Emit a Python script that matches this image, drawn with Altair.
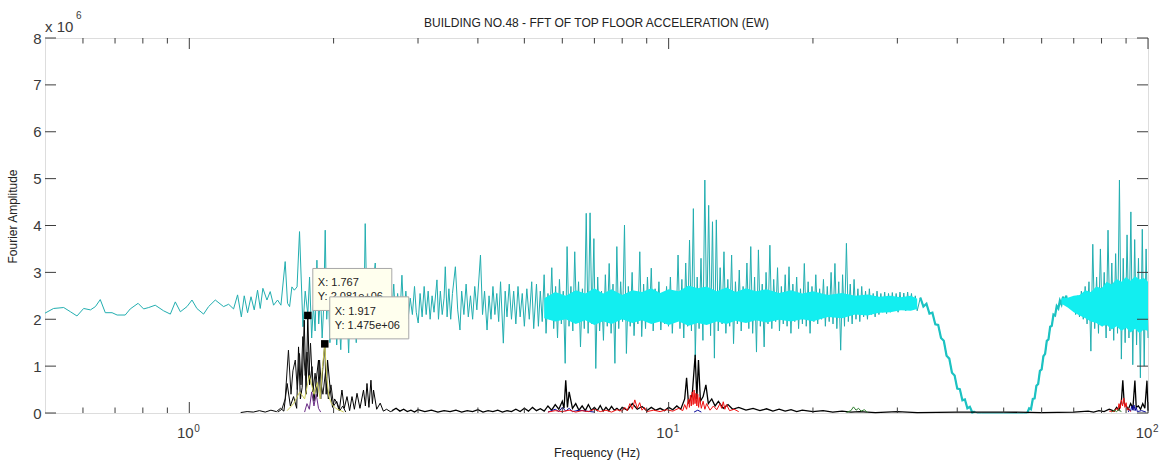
import altair as alt
import numpy as np
import pandas as pd

W, H = 1103, 375
FONT = "Liberation Sans"
AXC = "#3d3d3d"

TITLE = ["BUILDING NO.48 - FFT OF TOP FLOOR ACCELERATION (EW)"]
X_TITLE = "Frequency (Hz)"
Y_TITLE = "Fourier Amplitude"
MULT = ["x 10"]
MULT_EXP = ["6"]

# ---------------- cyan series (amplitude in x10^6) ----------------
cyan_low = [
    (0.500, 2.13), (0.521, 2.23), (0.547, 2.25), (0.565, 2.16), (0.583, 2.07), (0.602, 2.23),
    (0.622, 2.20), (0.637, 2.27), (0.652, 2.42), (0.668, 2.14), (0.690, 2.14), (0.707, 2.09),
    (0.735, 2.09), (0.753, 2.22), (0.782, 2.34), (0.803, 2.22), (0.823, 2.25), (0.849, 2.30),
    (0.884, 2.18), (0.913, 2.11), (0.935, 2.37), (0.958, 2.16), (0.989, 2.27), (1.013, 2.41),
    (1.037, 2.23), (1.071, 2.11), (1.097, 2.27), (1.133, 2.41), (1.179, 2.27), (1.208, 2.32),
    (1.237, 2.22), (1.261, 2.52), (1.284, 2.05), (1.302, 2.50), (1.323, 2.14), (1.345, 2.48),
    (1.366, 2.20), (1.388, 2.62), (1.406, 2.23), (1.424, 2.66), (1.452, 2.41), (1.475, 2.59),
    (1.499, 2.30), (1.528, 2.41), (1.553, 2.30), (1.585, 3.23), (1.603, 2.34), (1.619, 2.27),
    (1.637, 2.69), (1.656, 2.62), (1.678, 2.69), (1.698, 3.87), (1.726, 1.84),
]
cyan_mid = [
    (1.745, 2.60), (1.767, 2.10), (1.782, 2.90), (1.800, 1.60), (1.815, 2.30), (1.830, 1.75),
    (1.846, 3.26), (1.862, 1.90), (1.878, 2.55), (1.893, 1.60), (1.907, 2.25), (1.921, 3.90),
    (1.935, 2.00), (1.950, 2.70), (1.965, 1.50), (1.980, 2.40), (1.995, 1.80), (2.010, 2.60),
    (2.030, 1.45), (2.050, 2.20), (2.070, 1.35), (2.090, 2.50), (2.110, 1.60), (2.130, 2.30),
    (2.150, 1.28), (2.170, 2.60), (2.190, 1.70), (2.210, 2.35), (2.230, 1.50), (2.250, 2.70),
    (2.270, 1.90), (2.290, 2.40), (2.310, 1.60), (2.328, 4.04), (2.350, 1.90), (2.370, 2.90),
    (2.390, 2.00), (2.410, 2.60), (2.443, 3.20), (2.460, 1.90), (2.480, 2.50), (2.500, 2.10),
    (2.520, 2.70), (2.545, 2.20), (2.570, 2.60), (2.595, 2.00), (2.620, 2.50), (2.645, 2.10),
    (2.670, 2.75), (2.695, 1.95), (2.720, 2.55), (2.750, 2.05), (2.777, 2.94), (2.800, 2.10),
    (2.830, 2.60), (2.860, 2.00), (2.890, 2.45), (2.920, 2.10), (2.950, 2.70), (2.975, 2.15),
    (3.003, 1.92), (3.030, 2.55), (3.060, 2.05), (3.090, 2.70), (3.120, 2.10), (3.150, 2.60),
    (3.180, 2.00), (3.210, 2.50), (3.240, 2.15), (3.286, 2.84), (3.310, 2.00), (3.340, 2.60),
    (3.370, 2.10), (3.400, 2.45), (3.420, 3.12), (3.450, 2.05), (3.480, 2.65), (3.510, 2.00),
    (3.540, 2.55), (3.590, 3.12), (3.630, 2.20), (3.670, 1.77), (3.700, 2.60), (3.740, 2.10),
    (3.780, 2.75), (3.820, 2.05), (3.860, 2.50), (3.900, 2.00), (3.940, 2.70), (3.980, 2.20),
    (4.050, 3.37), (4.090, 2.10), (4.130, 2.60), (4.180, 1.77), (4.220, 2.50), (4.260, 2.00),
    (4.300, 2.70), (4.340, 2.10), (4.380, 2.55), (4.420, 1.95), (4.460, 2.80), (4.520, 1.49),
    (4.560, 2.60), (4.600, 2.05), (4.650, 2.75), (4.700, 2.00), (4.750, 2.60), (4.800, 1.90),
    (4.850, 2.70), (4.900, 2.05), (4.950, 2.55), (5.000, 1.85), (5.060, 2.65), (5.120, 2.00),
    (5.180, 2.80), (5.230, 1.80),
]
# dense band 5.3 - 33 Hz (values read left to right, alternating crest / trough)
cyan_dense_a_range = (5.3, 33.0)
cyan_dense_a = [
    2.75, 1.85, 2.60, 1.95, 2.95, 1.70, 2.55, 2.00, 3.10, 1.80, 2.70, 1.60, 2.85, 1.90, 2.60, 1.06, 3.55, 1.85, 2.70, 1.75,
    3.44, 1.95, 2.80, 1.41, 2.65, 1.80, 4.26, 1.70, 4.27, 1.90, 3.72, 0.95, 2.90, 1.75, 2.60, 1.55, 2.95, 1.85, 3.19, 1.70,
    2.75, 1.06, 3.55, 1.80, 2.80, 1.95, 4.01, 1.27, 2.70, 1.85, 3.00, 1.65, 2.60, 1.90, 3.44, 1.63, 2.75, 1.80, 2.90, 1.95,
    3.09, 1.75, 2.65, 2.00, 2.80, 1.77, 2.55, 1.90, 2.70, 1.85, 2.90, 1.70, 2.60, 1.95, 3.37, 1.80, 2.85, 1.60, 3.20, 1.85,
    3.69, 1.75, 4.36, 1.20, 2.90, 1.80, 3.30, 1.55, 4.97, 1.90, 4.43, 1.65, 4.08, 1.17, 4.12, 1.75, 3.10, 1.90, 3.44, 1.70,
    2.85, 1.85, 3.37, 1.48, 2.80, 1.90, 3.05, 1.75, 2.70, 1.95, 3.20, 1.80, 3.55, 1.70, 2.90, 1.30, 3.48, 1.85, 2.75, 1.41,
    3.00, 1.90, 3.58, 1.80, 2.85, 1.95, 3.10, 1.75, 2.70, 1.90, 2.95, 1.85, 3.12, 1.70, 2.75, 1.95, 2.90, 1.80, 2.65, 1.90,
    3.19, 1.85, 2.80, 1.70, 2.70, 1.95, 2.95, 1.90, 2.65, 2.00, 2.85, 1.85, 2.70, 1.95, 3.00, 1.90, 3.19, 1.80, 2.80, 1.34,
    2.95, 1.85, 3.62, 1.95, 2.75, 1.90, 2.85, 2.00, 2.65, 1.95, 2.70, 2.05, 2.60, 2.00, 2.65, 2.10, 2.55, 2.05, 2.60, 2.10,
    2.55, 2.15, 2.58, 2.12, 2.55, 2.15, 2.57, 2.18, 2.55, 2.15, 2.58, 2.20, 2.56, 2.18, 2.58, 2.22, 2.55, 2.20, 2.50, 2.18,
]
# roll-off and recovery around the 40-60 Hz notch
cyan_dip_down = [
    (33.5, 2.46), (34.0, 2.27), (34.5, 2.33), (35.0, 2.12), (35.5, 2.14), (36.0, 1.89), (36.5, 1.88),
    (37.0, 1.60), (37.5, 1.54), (38.0, 1.22), (38.5, 1.16), (39.0, 0.86), (39.5, 0.80), (40.0, 0.52),
    (40.5, 0.51), (41.0, 0.27), (41.5, 0.29), (42.0, 0.10), (42.5, 0.13), (43.0, 0.01), (43.5, 0.03),
]
cyan_notch = [(44.0, 0.00), (45.0, 0.00), (50.0, 0.00), (55.0, 0.00)]
cyan_dip_up = [
    (56.0, 0.00), (56.5, 0.10), (57.0, 0.08),
    (57.5, 0.30), (58.0, 0.31), (58.5, 0.58), (59.0, 0.62), (59.5, 0.90), (60.0, 0.93), (60.5, 1.21),
    (61.0, 1.26), (61.5, 1.54), (62.0, 1.57), (62.5, 1.84), (63.0, 1.86), (63.5, 2.10), (64.0, 2.08),
    (64.5, 2.28), (65.0, 2.23), (65.5, 2.40), (66.0, 2.32), (66.5, 2.48), (67.0, 2.36), (67.5, 2.50),
    (68.0, 2.32), (68.5, 2.45), (69.0, 2.26), (69.5, 2.40),
]
cyan_dense_b_range = (70.0, 100.0)
cyan_dense_b = [
    2.45, 2.10, 2.50, 2.05, 2.60, 2.00, 2.70, 1.90, 2.80, 1.32, 3.60, 1.80, 2.90, 1.70, 3.50, 1.85, 3.00, 1.60, 3.90, 1.75,
    3.20, 1.55, 3.40, 1.70, 4.97, 1.15, 3.30, 1.50, 3.80, 1.60, 4.29, 1.03, 3.70, 1.45, 3.30, 0.75, 3.92, 1.00, 3.50, 1.60,
]
# bright solid core of the dense cyan band: (freq, lower, upper)
cyan_core_a = [
    (5.5, 2.02, 2.45), (5.8, 1.95, 2.58), (6.1, 2.00, 2.50), (6.4, 1.90, 2.62), (6.7, 1.98, 2.55),
    (7.0, 1.88, 2.66), (7.3, 1.96, 2.55), (7.6, 1.90, 2.64), (8.0, 2.00, 2.52), (8.4, 1.92, 2.62),
    (8.8, 1.98, 2.58), (9.2, 1.90, 2.66), (9.6, 1.95, 2.56), (10.0, 1.88, 2.64), (10.5, 1.95, 2.60),
    (11.0, 1.86, 2.72), (11.5, 1.92, 2.66), (12.0, 1.88, 2.70), (12.6, 1.95, 2.60), (13.2, 1.90, 2.68),
    (13.8, 1.97, 2.58), (14.5, 1.92, 2.66), (15.2, 1.98, 2.60), (16.0, 1.93, 2.64), (17.0, 1.99, 2.56),
    (18.0, 1.95, 2.62), (19.0, 2.00, 2.55), (20.0, 1.96, 2.60), (21.5, 2.05, 2.52), (23.0, 2.02, 2.56),
    (24.5, 2.10, 2.50), (26.0, 2.08, 2.53), (27.5, 2.14, 2.48), (29.0, 2.15, 2.50), (30.5, 2.19, 2.47),
    (32.0, 2.18, 2.50), (33.0, 2.22, 2.44),
]
cyan_core_b = [
    (66.0, 2.33, 2.45), (68.0, 2.25, 2.46), (70.0, 2.15, 2.50), (72.0, 2.08, 2.52), (74.0, 2.02, 2.62),
    (76.0, 1.95, 2.58), (78.0, 1.92, 2.70), (80.0, 1.85, 2.66), (82.0, 1.88, 2.80), (84.0, 1.78, 2.74),
    (86.0, 1.85, 2.86), (88.0, 1.75, 2.80), (90.0, 1.82, 2.90), (92.0, 1.72, 2.82), (94.0, 1.80, 2.92),
    (96.0, 1.70, 2.85), (98.0, 1.78, 2.88), (100.0, 1.75, 2.80),
]

# ---------------- black series ----------------
black_a_f = [1.28, 1.32, 1.36, 1.40, 1.44, 1.48, 1.52, 1.55, 1.575, 1.60, 1.625, 1.65, 1.675, 1.69,
             1.705, 1.72, 1.737, 1.752, 1.767, 1.782, 1.803, 1.82, 1.84, 1.86, 1.88, 1.90, 1.917, 1.93,
             1.943, 1.968, 1.99, 2.01, 2.032, 2.055, 2.082, 2.105, 2.133, 2.16, 2.185, 2.21, 2.238, 2.27,
             2.309, 2.33, 2.348, 2.37, 2.393, 2.41, 2.423, 2.46, 2.502, 2.54, 2.58, 2.626, 2.66]
black_a_v = [0.01, 0.03, 0.02, 0.05, 0.02, 0.06, 0.03, 0.10, 0.04, 0.63, 0.15, 0.35, 0.10, 1.41,
             0.30, 0.55, 1.98, 0.40, 2.081, 0.60, 0.99, 0.25, 0.70, 1.13, 0.30, 0.99, 1.475, 0.40,
             1.13, 0.50, 0.12, 0.30, 0.21, 0.05, 0.49, 0.10, 0.35, 0.05, 0.35, 0.08, 0.42, 0.10,
             0.49, 0.15, 0.63, 0.12, 0.70, 0.20, 0.49, 0.08, 0.21, 0.04, 0.08, 0.03, 0.05]
black_b_f = [1.53, 1.56, 1.585, 1.61, 1.63, 1.645, 1.664, 1.68, 1.698, 1.71, 1.725, 1.745, 1.76, 1.775,
             1.79, 1.81, 1.83, 1.85, 1.87, 1.885, 1.90, 1.925, 1.95, 1.975, 2.00, 2.03, 2.06, 2.09, 2.12]
black_b_v = [0.02, 0.08, 0.30, 1.34, 0.40, 0.90, 1.13, 0.50, 1.27, 0.60, 1.63, 0.80, 1.30, 0.70,
             1.49, 0.45, 0.85, 0.35, 1.13, 0.60, 0.40, 0.90, 0.30, 0.60, 0.15, 0.25, 0.05, 0.15, 0.02]
black_base = [
    (2.65, 0.05), (2.70, 0.10), (2.75, 0.04), (2.80, 0.08), (2.85, 0.03), (2.90, 0.06), (2.95, 0.02),
    (3.00, 0.07), (3.10, 0.03), (3.20, 0.06), (3.30, 0.02), (3.40, 0.05), (3.50, 0.03), (3.60, 0.06),
    (3.70, 0.02), (3.80, 0.05), (3.90, 0.03), (4.00, 0.07), (4.10, 0.02), (4.20, 0.05), (4.30, 0.03),
    (4.40, 0.06), (4.50, 0.02), (4.60, 0.05), (4.70, 0.03), (4.80, 0.08), (4.90, 0.03), (5.00, 0.10),
    (5.10, 0.04), (5.20, 0.12), (5.30, 0.05), (5.40, 0.09), (5.50, 0.04), (5.60, 0.15), (5.70, 0.06),
    (5.80, 0.18), (5.90, 0.08), (6.00, 0.25), (6.05, 0.10), (6.10, 0.70), (6.15, 0.12), (6.20, 0.45),
    (6.30, 0.10), (6.40, 0.20), (6.50, 0.06), (6.60, 0.15), (6.70, 0.05), (6.80, 0.18), (6.90, 0.06),
    (7.00, 0.12), (7.10, 0.05), (7.20, 0.16), (7.30, 0.04), (7.40, 0.12), (7.50, 0.05), (7.60, 0.14),
    (7.70, 0.06), (7.80, 0.10), (7.90, 0.05), (8.00, 0.12), (8.20, 0.06), (8.40, 0.20), (8.60, 0.08),
    (8.80, 0.14), (9.00, 0.05), (9.20, 0.12), (9.40, 0.06), (9.60, 0.10), (9.80, 0.05), (10.0, 0.12),
    (10.2, 0.07), (10.4, 0.15), (10.6, 0.08), (10.8, 0.30), (10.9, 0.75), (11.0, 0.20), (11.2, 0.40),
    (11.36, 1.24), (11.45, 0.30), (11.54, 1.13), (11.65, 0.25), (11.8, 0.35), (11.96, 0.60), (12.1, 0.20),
    (12.3, 0.30), (12.5, 0.15), (12.7, 0.25), (13.0, 0.10), (13.3, 0.18), (13.6, 0.08), (14.0, 0.12),
    (14.5, 0.06), (15.0, 0.10), (15.5, 0.05), (16.0, 0.09), (16.5, 0.04), (17.0, 0.08), (17.5, 0.04),
    (18.0, 0.07), (18.5, 0.03), (19.0, 0.06), (20.0, 0.03), (21.0, 0.05), (22.0, 0.02), (23.0, 0.04),
    (24.0, 0.02), (25.0, 0.03), (27.0, 0.01), (30.0, 0.03), (33.0, 0.01), (40.0, 0.02), (50.0, 0.02),
    (60.0, 0.01), (70.0, 0.02), (75.0, 0.04), (77.0, 0.02), (79.0, 0.05), (81.0, 0.03), (83.0, 0.08),
    (85.0, 0.04), (86.0, 0.12), (87.0, 0.06), (88.0, 0.25), (88.6, 0.70), (89.2, 0.20), (90.0, 0.15),
    (91.0, 0.08), (92.0, 0.20), (93.0, 0.10), (93.9, 0.69), (94.5, 0.12), (95.5, 0.15), (96.5, 0.08),
    (97.5, 0.20), (98.5, 0.10), (99.5, 0.69), (100.0, 0.05),
]

# ---------------- coloured series (separate frequency bursts) ----------------
yellow_bursts = [[(1.60, 0.05), (1.65, 0.20), (1.70, 0.45), (1.74, 0.30), (1.78, 0.80), (1.82, 0.40), (1.85, 0.65),
                  (1.875, 0.30), (1.895, 0.95), (1.917, 1.475), (1.935, 0.75), (1.955, 0.35), (1.98, 0.20),
                  (2.02, 0.10), (2.06, 0.06), (2.10, 0.02)]]
purple_bursts = [[(1.74, 0.02), (1.76, 0.20), (1.78, 0.08), (1.80, 0.45), (1.82, 0.15), (1.84, 0.40), (1.86, 0.10),
                  (1.88, 0.02)]]
red_bursts = [
    [(5.6, 0.02), (5.8, 0.05), (6.0, 0.03), (6.2, 0.06), (6.4, 0.02), (6.6, 0.05), (6.8, 0.03), (7.0, 0.08),
     (7.2, 0.03), (7.4, 0.06), (7.6, 0.02), (7.8, 0.07), (8.0, 0.04), (8.1, 0.12), (8.2, 0.05), (8.3, 0.20),
     (8.4, 0.08), (8.5, 0.28), (8.6, 0.10), (8.7, 0.22), (8.8, 0.06), (8.9, 0.12), (9.0, 0.03), (9.3, 0.06),
     (9.6, 0.03), (9.9, 0.07), (10.2, 0.04), (10.5, 0.10), (10.7, 0.05), (10.8, 0.18), (10.9, 0.08),
     (11.0, 0.30), (11.05, 0.12), (11.1, 0.38), (11.15, 0.15), (11.2, 0.45), (11.25, 0.18), (11.3, 0.49),
     (11.35, 0.20), (11.4, 0.42), (11.45, 0.15), (11.5, 0.40), (11.55, 0.12), (11.6, 0.33), (11.7, 0.10),
     (11.8, 0.25), (11.9, 0.08), (12.0, 0.20), (12.2, 0.06), (12.4, 0.15), (12.6, 0.07), (12.8, 0.20),
     (12.9, 0.10), (13.0, 0.24), (13.1, 0.08), (13.2, 0.18), (13.4, 0.05), (13.7, 0.08), (14.0, 0.03)],
    [(83.0, 0.04), (85.0, 0.03), (86.0, 0.10), (86.5, 0.05), (87.0, 0.20), (87.5, 0.10), (88.0, 0.28),
     (88.5, 0.15), (89.0, 0.32), (89.5, 0.12), (90.0, 0.22), (90.5, 0.06), (91.0, 0.10), (92.0, 0.03)],
]
blue_bursts = [
    [(5.6, 0.02), (5.8, 0.08), (5.9, 0.03), (6.0, 0.12), (6.1, 0.04), (6.2, 0.10), (6.3, 0.03), (6.5, 0.06),
     (7.0, 0.02)],
    [(11.3, 0.02), (11.5, 0.06), (11.7, 0.02)],
    [(91.0, 0.02), (91.5, 0.08), (92.0, 0.04), (92.5, 0.15), (93.0, 0.06), (93.5, 0.17), (94.0, 0.05),
     (94.5, 0.12), (95.0, 0.03), (97.0, 0.05), (99.0, 0.02)],
]
green_bursts = [
    [(23.5, 0.01), (24.0, 0.05), (24.3, 0.13), (24.6, 0.06), (24.9, 0.10), (25.2, 0.04), (25.6, 0.07), (26.0, 0.01)],
    [(84.0, 0.02), (85.0, 0.06), (86.0, 0.03), (87.0, 0.08), (88.0, 0.02)],
]

# ---------------- data tips ----------------
tip_f = [1.767, 1.917]
tip_a = [2.081, 1.475]
tip_xt = ["X: 1.767", "X: 1.917"]
tip_yt = ["Y: 2.081e+06", "Y: 1.475e+06"]

# ---------------- ticks ----------------
x_major = [1, 10, 100]
x_major_exp = ["0", "1", "2"]
x_minor = [0.6, 0.7, 0.8, 0.9, 2, 3, 4, 5, 6, 7, 8, 9, 20, 30, 40, 50, 60, 70, 80, 90]
y_ticks = [0, 1, 2, 3, 4, 5, 6, 7, 8]


# ================= build frames =================
def pts(p):
    return pd.DataFrame({"f": [q[0] for q in p], "a": [q[1] for q in p]})


def bursts(b):
    frames = []
    for k, p in enumerate(b):
        d = pts(p)
        d["seg"] = k
        frames.append(d)
    return pd.concat(frames, ignore_index=True)


fa = np.geomspace(*cyan_dense_a_range, len(cyan_dense_a))
fb = np.geomspace(*cyan_dense_b_range, len(cyan_dense_b))
cyan_df = pd.concat([
    pts(cyan_low), pts(cyan_mid),
    pd.DataFrame({"f": fa, "a": cyan_dense_a}),
    pts(cyan_dip_down), pts(cyan_notch), pts(cyan_dip_up),
    pd.DataFrame({"f": fb, "a": cyan_dense_b}),
], ignore_index=True)

core_df = pd.concat([
    pd.DataFrame({"f": [q[0] for q in c], "a": [q[1] for q in c], "a2": [q[2] for q in c], "seg": s})
    for c, s in ((cyan_core_a, "a"), (cyan_core_b, "b"))
], ignore_index=True)

XAX = alt.Axis(labels=False, ticks=False, domain=False, grid=False, title=X_TITLE,
               titleFont=FONT, titleFontSize=12.5, titleFontWeight="normal", titleColor="#222222",
               titleY=33, titleBaseline="top")
YAX = alt.Axis(values=y_ticks, format="d", ticks=False, domain=False, grid=False,
               labelFont=FONT, labelFontSize=15, labelColor="#3a3a3a", labelPadding=4,
               title=Y_TITLE, titleFont=FONT, titleFontSize=12, titleFontWeight="normal",
               titleColor="#222222", titleAngle=270, titleX=-26, titleY=178,
               titleAlign="center", titleBaseline="bottom")
XS = alt.Scale(type="log", domain=[0.5, 100], nice=False)
YS = alt.Scale(domain=[0, 8], nice=False, zero=True)
X = alt.X("f:Q", scale=XS, axis=XAX)
Y = alt.Y("a:Q", scale=YS, axis=YAX)


def line(df, color, width=1.0):
    enc = dict(x=X, y=Y)
    if "seg" in df.columns:
        enc["detail"] = "seg:N"
    return alt.Chart(df).mark_line(color=color, strokeWidth=width).encode(**enc)


layers = []
layers.append(line(cyan_df, "#22aeb0", 1.0))
layers.append(line(bursts([cyan_dip_down, cyan_dip_up]), "#1cc2c2", 2.2))
layers.append(alt.Chart(core_df).mark_area(color="#12eef0", opacity=1).encode(
    x=X, y=Y, y2="a2", detail="seg:N"))
layers.append(line(pd.DataFrame({"f": black_a_f, "a": black_a_v}), "#000000"))
layers.append(line(pd.DataFrame({"f": black_b_f, "a": black_b_v}), "#111111"))
layers.append(line(pts(black_base), "#000000", 1.3))
layers.append(line(bursts(purple_bursts), "#6a2c86"))
layers.append(line(bursts(blue_bursts), "#0a0a9a"))
layers.append(line(bursts(red_bursts), "#ee1111"))
layers.append(line(bursts(green_bursts), "#2f7f2f"))
layers.append(line(bursts(yellow_bursts), "#cfcf5a"))

# ticks (inward, MATLAB style)
xmaj = pd.DataFrame({"f": x_major, "e": x_major_exp})
xmin = pd.DataFrame({"f": x_minor})
ydf = pd.DataFrame({"a": y_ticks})
layers.append(alt.Chart(xmaj).mark_rule(color=AXC).encode(x=X, y=alt.value(H), y2=alt.value(H - 11)))
layers.append(alt.Chart(xmaj).mark_rule(color=AXC).encode(x=X, y=alt.value(0), y2=alt.value(11)))
layers.append(alt.Chart(xmin).mark_rule(color=AXC).encode(x=X, y=alt.value(H), y2=alt.value(H - 5.5)))
layers.append(alt.Chart(xmin).mark_rule(color=AXC).encode(x=X, y=alt.value(0), y2=alt.value(5.5)))
layers.append(alt.Chart(ydf).mark_rule(color=AXC).encode(y=Y, x=alt.value(0), x2=alt.value(11)))
layers.append(alt.Chart(ydf).mark_rule(color=AXC).encode(y=Y, x=alt.value(W), x2=alt.value(W - 11)))

# log tick labels 10^n
layers.append(alt.Chart(xmaj).mark_text(text="10", font=FONT, fontSize=15, color="#3a3a3a",
                                        align="center", baseline="alphabetic", dx=-4).encode(
    x=X, y=alt.value(H + 25)))
layers.append(alt.Chart(xmaj).mark_text(font=FONT, fontSize=10, color="#3a3a3a",
                                        align="left", baseline="alphabetic", dx=5).encode(
    x=X, y=alt.value(H + 19), text="e:N"))

# multiplier and title
layers.append(alt.Chart(pd.DataFrame({"t": MULT})).mark_text(
    font=FONT, fontSize=15, color="#3a3a3a", align="left", baseline="alphabetic").encode(
    x=alt.value(0), y=alt.value(-6), text="t:N"))
layers.append(alt.Chart(pd.DataFrame({"t": MULT_EXP})).mark_text(
    font=FONT, fontSize=10, color="#3a3a3a", align="left", baseline="alphabetic").encode(
    x=alt.value(31), y=alt.value(-19), text="t:N"))
layers.append(alt.Chart(pd.DataFrame({"t": TITLE})).mark_text(
    font=FONT, fontSize=12, color="#222222", align="center", baseline="alphabetic").encode(
    x=alt.value(W / 2), y=alt.value(-11), text="t:N"))

# data tips
tips = pd.DataFrame({"f": tip_f, "a": tip_a, "xt": tip_xt, "yt": tip_yt})
layers.append(alt.Chart(tips).mark_square(size=56, color="black", opacity=1).encode(x=X, y=Y))
for k in range(len(tip_f)):
    t = tips.iloc[[k]]
    layers.append(alt.Chart(t).mark_rect(xOffset=5, x2Offset=84, yOffset=-47, y2Offset=-5,
                                         fill="#ffffee", stroke="#a8a8a8", strokeWidth=1).encode(
        x=X, x2="f:Q", y=Y, y2="a:Q"))
    layers.append(alt.Chart(t).mark_text(font=FONT, fontSize=11, color="#222222", align="left",
                                         baseline="alphabetic", dx=10, dy=-29).encode(x=X, y=Y, text="xt:N"))
    layers.append(alt.Chart(t).mark_text(font=FONT, fontSize=11, color="#222222", align="left",
                                         baseline="alphabetic", dx=10, dy=-15).encode(x=X, y=Y, text="yt:N"))

chart = alt.layer(*layers).properties(
    width=W, height=H,
    padding={"left": 45, "top": 38, "right": 13, "bottom": 53},
    autosize=alt.AutoSizeParams(type="none"),
).configure_view(stroke=AXC, strokeWidth=1).configure(background="white")

chart.save("out.html", embed_options={"renderer": "svg", "actions": False})
